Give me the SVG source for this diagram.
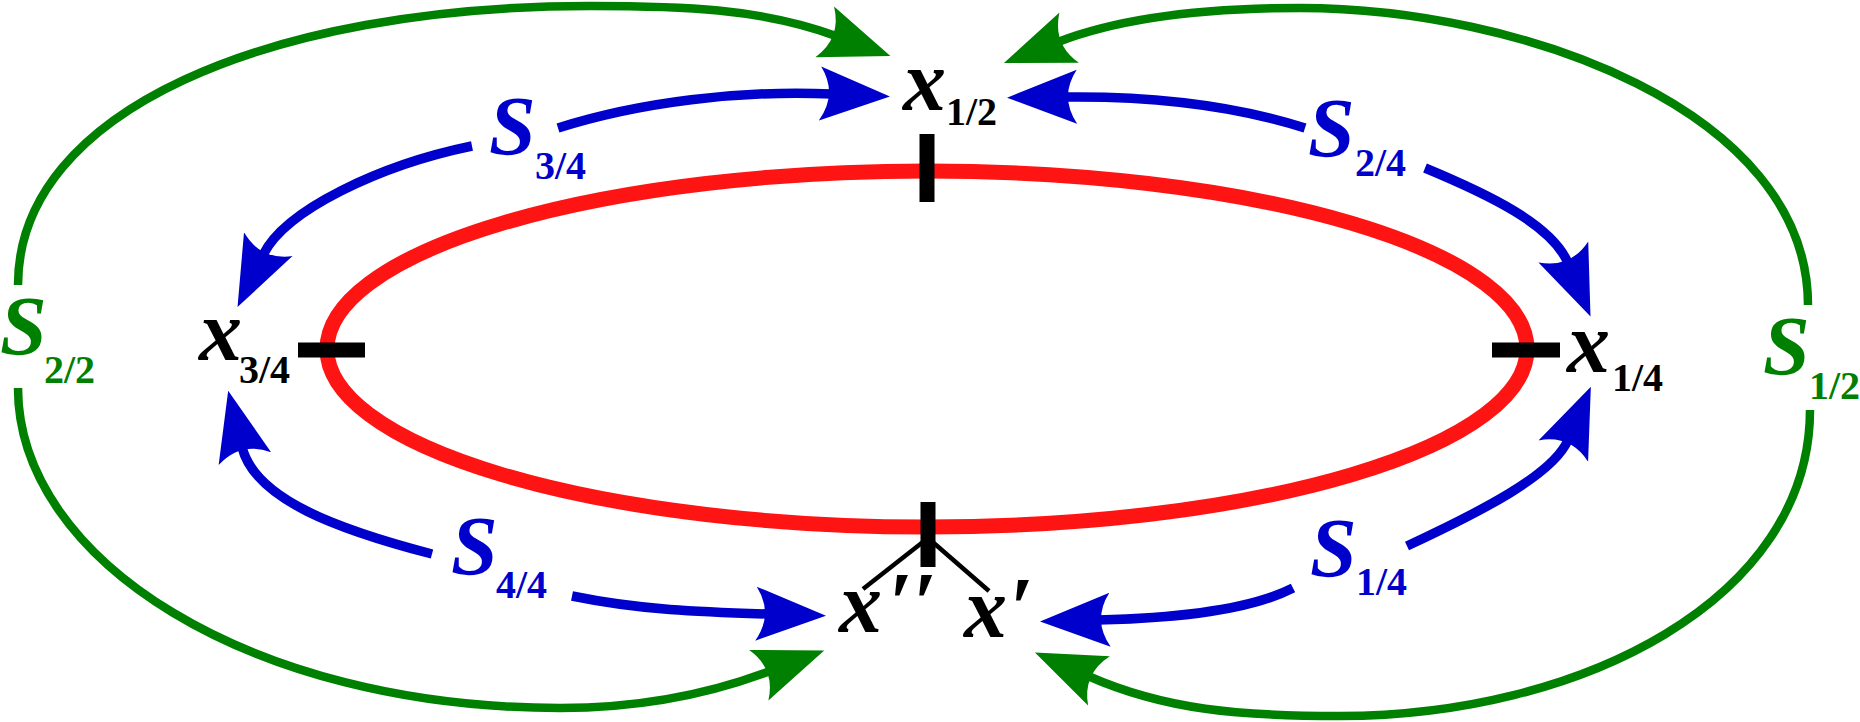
<svg xmlns="http://www.w3.org/2000/svg" width="1860" height="722" viewBox="0 0 1860 722">
<style>
.bg{fill:#ffffff}
.ring{fill:none;stroke:#ff1414;stroke-width:15}
.tick{stroke:#000;stroke-width:15;stroke-linecap:butt}
.leg{stroke:#000;stroke-width:4.5}
.b{fill:none;stroke:#0000cc;stroke-width:9.5}
.g{fill:none;stroke:#008000;stroke-width:8.5}
.v{font-family:"Liberation Serif",serif;font-weight:bold;font-style:italic;font-size:86px;fill:#000}
.S{font-family:"Liberation Serif",serif;font-weight:bold;font-style:italic;font-size:84px}
.sub{font-family:"Liberation Serif",serif;font-weight:bold;font-size:40px}
.blue{fill:#0000cc}
.green{fill:#008000}
.blk{fill:#000}
</style>
<defs>
<marker id="ab" markerUnits="userSpaceOnUse" markerWidth="72" markerHeight="60" viewBox="0 -30 72 60" refX="12" refY="0" orient="auto">
<path d="M70,0 L0,-27 Q18,0 0,27 Z" fill="#0000cc"/>
</marker>
<marker id="ag" markerUnits="userSpaceOnUse" markerWidth="72" markerHeight="60" viewBox="0 -30 72 60" refX="12" refY="0" orient="auto">
<path d="M70,0 L0,-27 Q18,0 0,27 Z" fill="#008000"/>
</marker>
</defs>
<rect class="bg" x="0" y="0" width="1860" height="722"/>

<g id="ring">
<ellipse class="ring" cx="927" cy="349" rx="600" ry="178"/>
<line class="tick" x1="927" y1="134" x2="927" y2="202"/>
<line class="tick" x1="928" y1="502" x2="928" y2="567"/>
<line class="tick" x1="298" y1="350" x2="365" y2="350"/>
<line class="tick" x1="1492" y1="350" x2="1560" y2="350"/>
</g>

<g id="connectors">
<path class="g" d="M18,285 C18,110 270,6 590,6 C680,6 760,8 836,36" marker-end="url(#ag)"/>
<path class="g" d="M18,388 C18,560 250,708 560,708 C650,708 720,690 770,671" marker-end="url(#ag)"/>
<path class="g" d="M1808,305 C1808,110 1520,8 1300,8 C1200,8 1120,18 1058,42" marker-end="url(#ag)"/>
<path class="g" d="M1810,410 C1810,600 1580,716 1340,716 C1240,716 1165,710 1088,676" marker-end="url(#ag)"/>
<path class="b" d="M558,128 C640,102 740,90 832,94" marker-end="url(#ab)"/>
<path class="b" d="M472,146 C380,165 285,210 263,255" marker-end="url(#ab)"/>
<path class="b" d="M1305,128 C1230,104 1150,96 1065,97" marker-end="url(#ab)"/>
<path class="b" d="M1425,168 C1490,195 1552,225 1568,263" marker-end="url(#ab)"/>
<path class="b" d="M432,554 C340,530 255,500 242,447" marker-end="url(#ab)"/>
<path class="b" d="M572,596 C640,610 700,612 768,614" marker-end="url(#ab)"/>
<path class="b" d="M1407,546 C1480,512 1553,475 1568,440" marker-end="url(#ab)"/>
<path class="b" d="M1293,588 C1250,610 1180,618 1098,620" marker-end="url(#ab)"/>
<line class="leg" x1="928" y1="538" x2="863" y2="589"/>
<line class="leg" x1="928" y1="538" x2="989" y2="591"/>
</g>

<g id="x12"><text class="v" x="903" y="110">x</text><text class="sub blk" x="946" y="125">1/2</text></g>
<g id="x34"><text class="v" x="199" y="360">x</text><text class="sub blk" x="239" y="383">3/4</text></g>
<g id="x14"><text class="v" x="1567" y="372">x</text><text class="sub blk" x="1612" y="391">1/4</text></g>
<g id="xpp"><text class="v" x="839" y="632">x<tspan dx="6">′′</tspan></text></g>
<g id="xp"><text class="v" x="964" y="637">x<tspan dx="2">′</tspan></text></g>

<g id="S34"><text class="S blue" x="489" y="155">S</text><text class="sub blue" x="535" y="179">3/4</text></g>
<g id="S24"><text class="S blue" x="1308" y="157">S</text><text class="sub blue" x="1355" y="176">2/4</text></g>
<g id="S44"><text class="S blue" x="451" y="575">S</text><text class="sub blue" x="496" y="598">4/4</text></g>
<g id="S14"><text class="S blue" x="1310" y="577">S</text><text class="sub blue" x="1356" y="595">1/4</text></g>
<g id="S22"><text class="S green" x="0" y="355">S</text><text class="sub green" x="44" y="383">2/2</text></g>
<g id="S12"><text class="S green" x="1763" y="375">S</text><text class="sub green" x="1809" y="399">1/2</text></g>
</svg>
